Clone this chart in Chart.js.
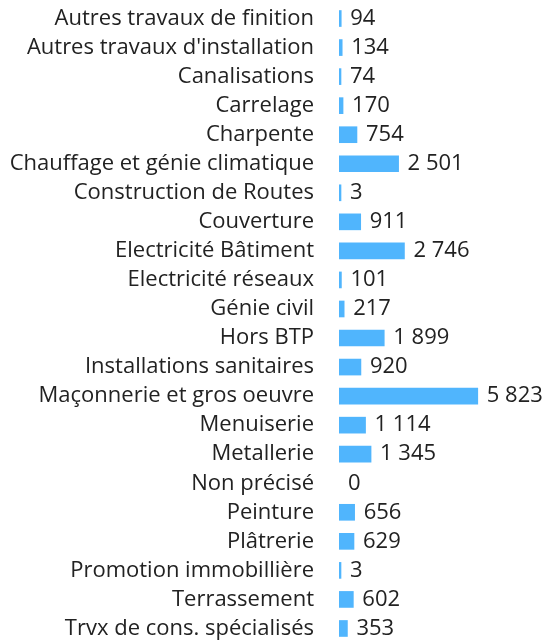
<!DOCTYPE html>
<html>
<head>
<meta charset="utf-8">
<script src="https://cdn.jsdelivr.net/npm/chart.js@4"></script>
<style>
  html, body { margin: 0; padding: 0; background: #fff; }
</style>
</head>
<body>
<canvas id="chart" width="543" height="643"></canvas>
<script>
/* ---------- DATA ---------- */
const categories = [
  "Autres travaux de finition", "Autres travaux d'installation", "Canalisations",
  "Carrelage", "Charpente", "Chauffage et génie climatique", "Construction de Routes",
  "Couverture", "Electricité Bâtiment", "Electricité réseaux", "Génie civil",
  "Hors BTP", "Installations sanitaires", "Maçonnerie et gros oeuvre", "Menuiserie",
  "Metallerie", "Non précisé", "Peinture", "Plâtrerie", "Promotion immobillière",
  "Terrassement", "Trvx de cons. spécialisés"
];
const values = [94, 134, 74, 170, 754, 2501, 3, 911, 2746, 101, 217, 1899, 920, 5823, 1114, 1345, 0, 656, 629, 3, 602, 353];

// thousands with a plain space, like "2 501"
function fmt(n) {
  return String(n).replace(/\B(?=(\d{3})+(?!\d))/g, " ");
}

/* ---------- VALUE LABELS ---------- */
const valueLabels = {
  id: "valueLabels",
  afterDatasetsDraw(chart) {
    const ctx = chart.ctx;
    const xs = chart.scales.x, ys = chart.scales.y;
    const meta = chart.getDatasetMeta(0);
    ctx.save();
    ctx.font = "22px 'Open Sans'";
    ctx.fillStyle = "#222";
    ctx.textAlign = "left";
    ctx.textBaseline = "middle";
    values.forEach((v, i) => {
      const bar = meta.data[i];
      // zero bars are skipped, so fall back to the axis start
      const x = v ? bar.x : xs.getPixelForValue(0);
      ctx.fillText(fmt(v), x + 9, ys.getPixelForValue(i));
    });
    ctx.restore();
  }
};

/* ---------- CHART ---------- */
Chart.defaults.font.family = "'Open Sans'";
Chart.defaults.font.size = 22;
Chart.defaults.color = "#222";

new Chart(document.getElementById("chart"), {
  type: "bar",
  data: {
    labels: categories,
    datasets: [{
      data: values.map(v => v === 0 ? null : v),
      backgroundColor: "#50b5fd",
      barThickness: 16,
      minBarLength: 2
    }]
  },
  options: {
    indexAxis: "y",
    responsive: false,
    animation: false,
    layout: { autoPadding: false, padding: { top: 4, right: 61, bottom: -1, left: 0 } },
    plugins: { legend: { display: false }, tooltip: { enabled: false } },
    scales: {
      x: { display: false, min: 0, max: 6000 },
      y: {
        grid: { display: false, drawTicks: false },
        border: { display: false },
        ticks: { padding: 25, autoSkip: false, color: "#222", font: { size: 22 } },
        afterFit(scale) {
          scale.width = 339;
          scale.paddingTop = 0;
          scale.paddingBottom = 0;
        }
      }
    }
  },
  plugins: [valueLabels]
});
</script>
</body>
</html>
